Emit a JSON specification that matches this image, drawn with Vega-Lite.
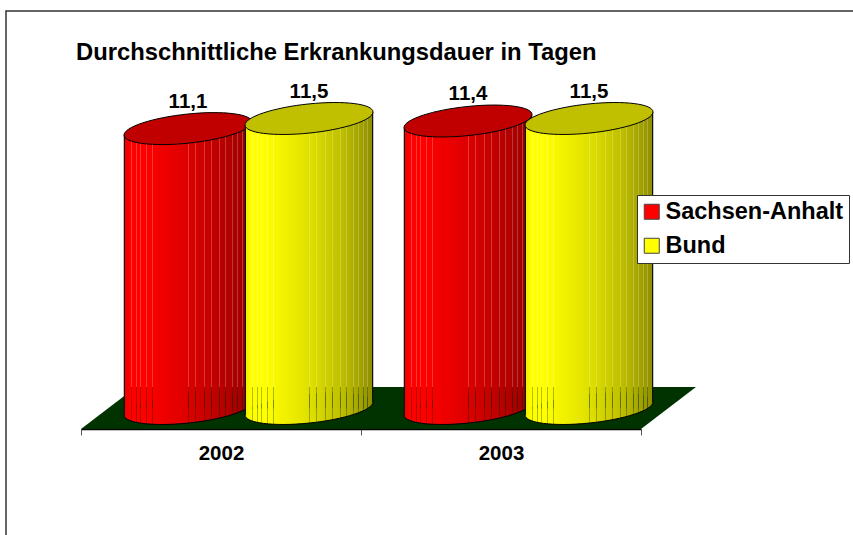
{
"$schema":"https://vega.github.io/schema/vega-lite/v6.json",
"width":848,"height":525,"autosize":{"type":"none"},
"padding":{"left":6,"top":11,"right":0,"bottom":0},
"background":"white",
"view":{"stroke":"#333333","strokeWidth":1.5,"fill":null},
"title":{"text":"Durchschnittliche Erkrankungsdauer in Tagen","anchor":"start","frame":"group","fontSize":23.8,"font":"Liberation Sans","fontWeight":"bold","color":"#000000","dx":70,"offset":-73,"baseline":"alphabetic"},
"data":{"values":[
{"year":"2002","series":"Sachsen-Anhalt","value":11.1,"label":"11,1"},
{"year":"2002","series":"Bund","value":11.5,"label":"11,5"},
{"year":"2003","series":"Sachsen-Anhalt","value":11.4,"label":"11,4"},
{"year":"2003","series":"Bund","value":11.5,"label":"11,5"}
]},
"encoding":{
"x":{"field":"year","type":"nominal","scale":{"type":"band","domain":["2002","2003"],"range":[75,635],"paddingInner":0,"paddingOuter":0},
"axis":{"title":null,"orient":"bottom","offset":-107,"tickBand":"extent","labelAngle":0,"labelFont":"Liberation Sans","labelFontSize":20.5,"labelFontWeight":"bold","labelColor":"#000000","labelPadding":8,"tickSize":6,"tickColor":"#555555","domainColor":"#000000","domainWidth":1.5,"grid":false}},
"xOffset":{"field":"series","type":"nominal","scale":{"type":"band","domain":["Sachsen-Anhalt","Bund"],"range":[46.5,288.5],"paddingInner":0,"paddingOuter":0}},
"y":{"field":"value","type":"quantitative","scale":{"domain":[0,11.5],"range":[397.5,107.5]},"axis":null}
},
"layer":[
{"transform":[{"filter":"datum.year=='2003' && datum.series=='Bund'"}],
 "mark":{"type":"point","filled":true,"opacity":1,"size":40000,"fill":"#003300","stroke":null,"shape":"M-2.8,0.205L2.8,0.205L3.35,-0.215L-2.25,-0.215Z"},
 "encoding":{"x":{"field":"year","type":"nominal","bandPosition":0},"xOffset":null,"y":{"datum":0}}},

{"transform":[{"filter":"datum.series=='Sachsen-Anhalt'"}],"layer":[
 {"mark":{"type":"point","filled":true,"opacity":1,"size":16384,"style":"redFull","stroke":"#000000","strokeWidth":1,"shape":"M1,-0.1016C1,0.0243 0.5523,0.1719 0,0.228C-0.5523,0.2841 -1,0.2275 -1,0.1016C-1,-0.0243 -0.5523,-0.1719 0,-0.228C0.5523,-0.2841 1,-0.2275 1,-0.1016Z"},"encoding":{"y":{"datum":0}}},
 {"mark":{"type":"bar","width":64.5,"xOffset":-65,"yOffset":6.5,"y2Offset":6.5,"style":"redLeft"},"encoding":{"xOffset":null,"y2":{"datum":0}}},
 {"mark":{"type":"bar","width":64.5,"xOffset":-1,"yOffset":-6.5,"y2Offset":-6.5,"style":"redRight"},"encoding":{"xOffset":null,"y2":{"datum":0}}},
 {"mark":{"type":"bar","width":128,"style":"stripeLight"},"encoding":{"y2":{"datum":0.85}}},
 {"mark":{"type":"bar","width":128,"style":"stripeDark"},"encoding":{"y":{"datum":0.85},"y2":{"datum":0}}},
 {"mark":{"type":"point","filled":true,"opacity":1,"size":16384,"style":"stripeDark","stroke":null,"shape":"M1,-0.1016C1,0.0243 0.5523,0.1719 0,0.228C-0.5523,0.2841 -1,0.2275 -1,0.1016C-1,-0.0243 -0.5523,-0.1719 0,-0.228C0.5523,-0.2841 1,-0.2275 1,-0.1016Z"},"encoding":{"y":{"datum":0}}},
 {"mark":{"type":"point","filled":true,"opacity":1,"size":16384,"fill":"#c00000","stroke":"#000000","strokeWidth":1,"shape":"M1,-0.1016C1,0.0243 0.5523,0.1719 0,0.228C-0.5523,0.2841 -1,0.2275 -1,0.1016C-1,-0.0243 -0.5523,-0.1719 0,-0.228C0.5523,-0.2841 1,-0.2275 1,-0.1016Z"}}
]},
{"transform":[{"filter":"datum.series=='Bund'"}],"layer":[
 {"mark":{"type":"point","filled":true,"opacity":1,"size":16384,"style":"yelFull","stroke":"#000000","strokeWidth":1,"shape":"M1,-0.1016C1,0.0243 0.5523,0.1719 0,0.228C-0.5523,0.2841 -1,0.2275 -1,0.1016C-1,-0.0243 -0.5523,-0.1719 0,-0.228C0.5523,-0.2841 1,-0.2275 1,-0.1016Z"},"encoding":{"y":{"datum":0}}},
 {"mark":{"type":"bar","width":64.5,"xOffset":56,"yOffset":6.5,"y2Offset":6.5,"style":"yelLeft"},"encoding":{"xOffset":null,"y2":{"datum":0}}},
 {"mark":{"type":"bar","width":64.5,"xOffset":120,"yOffset":-6.5,"y2Offset":-6.5,"style":"yelRight"},"encoding":{"xOffset":null,"y2":{"datum":0}}},
 {"mark":{"type":"bar","width":128,"style":"stripeLight"},"encoding":{"y2":{"datum":0.85}}},
 {"mark":{"type":"bar","width":128,"style":"stripeDark"},"encoding":{"y":{"datum":0.85},"y2":{"datum":0}}},
 {"mark":{"type":"point","filled":true,"opacity":1,"size":16384,"style":"stripeDark","stroke":null,"shape":"M1,-0.1016C1,0.0243 0.5523,0.1719 0,0.228C-0.5523,0.2841 -1,0.2275 -1,0.1016C-1,-0.0243 -0.5523,-0.1719 0,-0.228C0.5523,-0.2841 1,-0.2275 1,-0.1016Z"},"encoding":{"y":{"datum":0}}},
 {"mark":{"type":"point","filled":true,"opacity":1,"size":16384,"fill":"#c0c000","stroke":"#000000","strokeWidth":1,"shape":"M1,-0.1016C1,0.0243 0.5523,0.1719 0,0.228C-0.5523,0.2841 -1,0.2275 -1,0.1016C-1,-0.0243 -0.5523,-0.1719 0,-0.228C0.5523,-0.2841 1,-0.2275 1,-0.1016Z"}}
]},
{"mark":{"type":"text","font":"Liberation Sans","fontSize":20.5,"fontWeight":"bold","color":"#000000","baseline":"alphabetic","dy":-21},"encoding":{"text":{"field":"label","type":"nominal"}}},
{"mark":{"type":"point","filled":true,"opacity":0,"size":10},
 "encoding":{"fill":{"field":"series","type":"nominal","scale":{"domain":["Sachsen-Anhalt","Bund"],"range":["#ff0000","#ffff00"]},
 "legend":{"title":null,"orient":"none","legendX":631,"legendY":184,"padding":5,"fillColor":"#ffffff","strokeColor":"#333333","symbolType":"square","symbolSize":225,"symbolOpacity":1,"symbolStrokeColor":"#444444","symbolStrokeWidth":1,"labelFont":"Liberation Sans","labelFontSize":23.5,"labelFontWeight":"bold","labelColor":"#000000","labelLimit":300,"rowPadding":9,"symbolOffset":-2,"labelOffset":2}}}}
],
"config":{"font":"Liberation Sans","style":{
"redFull":{"color":{"x1":0,"x2":1,"y1":0,"y2":0,"gradient":"linear","stops":[{"offset":0,"color":"#ee0000"},{"offset":0.05,"color":"#ff0000"},{"offset":0.15,"color":"#ff0000"},{"offset":0.5,"color":"#dc0000"},{"offset":0.75,"color":"#bb0000"},{"offset":1,"color":"#990000"}]}},
"redLeft":{"color":{"x1":0,"x2":1,"y1":0,"y2":0,"gradient":"linear","stops":[{"offset":0,"color":"#111111"},{"offset":0.015,"color":"#111111"},{"offset":0.016,"color":"#ee0000"},{"offset":0.1,"color":"#ff0000"},{"offset":0.3,"color":"#ff0000"},{"offset":1,"color":"#dc0000"}]}},
"redRight":{"color":{"x1":0,"x2":1,"y1":0,"y2":0,"gradient":"linear","stops":[{"offset":0,"color":"#dc0000"},{"offset":0.5,"color":"#bb0000"},{"offset":0.985,"color":"#990000"},{"offset":0.986,"color":"#111111"},{"offset":1,"color":"#111111"}]}},
"yelFull":{"color":{"x1":0,"x2":1,"y1":0,"y2":0,"gradient":"linear","stops":[{"offset":0,"color":"#eeee00"},{"offset":0.05,"color":"#ffff00"},{"offset":0.15,"color":"#ffff00"},{"offset":0.5,"color":"#e0e000"},{"offset":0.75,"color":"#c0c000"},{"offset":1,"color":"#8f8f00"}]}},
"yelLeft":{"color":{"x1":0,"x2":1,"y1":0,"y2":0,"gradient":"linear","stops":[{"offset":0,"color":"#111111"},{"offset":0.015,"color":"#111111"},{"offset":0.016,"color":"#eeee00"},{"offset":0.1,"color":"#ffff00"},{"offset":0.3,"color":"#ffff00"},{"offset":1,"color":"#e0e000"}]}},
"yelRight":{"color":{"x1":0,"x2":1,"y1":0,"y2":0,"gradient":"linear","stops":[{"offset":0,"color":"#e0e000"},{"offset":0.5,"color":"#c0c000"},{"offset":0.985,"color":"#8f8f00"},{"offset":0.986,"color":"#111111"},{"offset":1,"color":"#111111"}]}},
"stripeLight":{"color":{"x1":0,"x2":1,"y1":0,"y2":0,"gradient":"linear","stops":[
{"offset":0.052,"color":"rgba(255,255,255,0)"},{"offset":0.052,"color":"rgba(255,255,255,0.22)"},{"offset":0.06,"color":"rgba(255,255,255,0.22)"},{"offset":0.06,"color":"rgba(255,255,255,0)"},
{"offset":0.091,"color":"rgba(255,255,255,0)"},{"offset":0.091,"color":"rgba(255,255,255,0.22)"},{"offset":0.099,"color":"rgba(255,255,255,0.22)"},{"offset":0.099,"color":"rgba(255,255,255,0)"},
{"offset":0.125,"color":"rgba(255,255,255,0)"},{"offset":0.125,"color":"rgba(255,255,255,0.22)"},{"offset":0.133,"color":"rgba(255,255,255,0.22)"},{"offset":0.133,"color":"rgba(255,255,255,0)"},
{"offset":0.174,"color":"rgba(255,255,255,0)"},{"offset":0.174,"color":"rgba(255,255,255,0.22)"},{"offset":0.182,"color":"rgba(255,255,255,0.22)"},{"offset":0.182,"color":"rgba(255,255,255,0)"},
{"offset":0.221,"color":"rgba(255,255,255,0)"},{"offset":0.221,"color":"rgba(255,255,255,0.22)"},{"offset":0.229,"color":"rgba(255,255,255,0.22)"},{"offset":0.229,"color":"rgba(255,255,255,0)"},
{"offset":0.503,"color":"rgba(255,255,255,0)"},{"offset":0.503,"color":"rgba(255,255,255,0.22)"},{"offset":0.511,"color":"rgba(255,255,255,0.22)"},{"offset":0.511,"color":"rgba(255,255,255,0)"},
{"offset":0.555,"color":"rgba(255,255,255,0)"},{"offset":0.555,"color":"rgba(255,255,255,0.22)"},{"offset":0.563,"color":"rgba(255,255,255,0.22)"},{"offset":0.563,"color":"rgba(255,255,255,0)"},
{"offset":0.625,"color":"rgba(255,255,255,0)"},{"offset":0.625,"color":"rgba(255,255,255,0.22)"},{"offset":0.633,"color":"rgba(255,255,255,0.22)"},{"offset":0.633,"color":"rgba(255,255,255,0)"},
{"offset":0.682,"color":"rgba(255,255,255,0)"},{"offset":0.682,"color":"rgba(255,255,255,0.22)"},{"offset":0.69,"color":"rgba(255,255,255,0.22)"},{"offset":0.69,"color":"rgba(255,255,255,0)"},
{"offset":0.742,"color":"rgba(255,255,255,0)"},{"offset":0.742,"color":"rgba(255,255,255,0.22)"},{"offset":0.75,"color":"rgba(255,255,255,0.22)"},{"offset":0.75,"color":"rgba(255,255,255,0)"},
{"offset":0.789,"color":"rgba(255,255,255,0)"},{"offset":0.789,"color":"rgba(255,255,255,0.22)"},{"offset":0.797,"color":"rgba(255,255,255,0.22)"},{"offset":0.797,"color":"rgba(255,255,255,0)"},
{"offset":0.841,"color":"rgba(255,255,255,0)"},{"offset":0.841,"color":"rgba(255,255,255,0.22)"},{"offset":0.849,"color":"rgba(255,255,255,0.22)"},{"offset":0.849,"color":"rgba(255,255,255,0)"},
{"offset":0.886,"color":"rgba(255,255,255,0)"},{"offset":0.886,"color":"rgba(255,255,255,0.22)"},{"offset":0.894,"color":"rgba(255,255,255,0.22)"},{"offset":0.894,"color":"rgba(255,255,255,0)"},
{"offset":0.919,"color":"rgba(255,255,255,0)"},{"offset":0.919,"color":"rgba(255,255,255,0.22)"},{"offset":0.927,"color":"rgba(255,255,255,0.22)"},{"offset":0.927,"color":"rgba(255,255,255,0)"},
{"offset":0.95,"color":"rgba(255,255,255,0)"},{"offset":0.95,"color":"rgba(255,255,255,0.22)"},{"offset":0.958,"color":"rgba(255,255,255,0.22)"},{"offset":0.958,"color":"rgba(255,255,255,0)"}
]}},
"stripeDark":{"color":{"x1":0,"x2":1,"y1":0,"y2":0,"gradient":"linear","stops":[
{"offset":0.052,"color":"rgba(0,40,0,0)"},{"offset":0.052,"color":"rgba(0,40,0,0.3)"},{"offset":0.06,"color":"rgba(0,40,0,0.3)"},{"offset":0.06,"color":"rgba(0,40,0,0)"},
{"offset":0.091,"color":"rgba(0,40,0,0)"},{"offset":0.091,"color":"rgba(0,40,0,0.3)"},{"offset":0.099,"color":"rgba(0,40,0,0.3)"},{"offset":0.099,"color":"rgba(0,40,0,0)"},
{"offset":0.125,"color":"rgba(0,40,0,0)"},{"offset":0.125,"color":"rgba(0,40,0,0.3)"},{"offset":0.133,"color":"rgba(0,40,0,0.3)"},{"offset":0.133,"color":"rgba(0,40,0,0)"},
{"offset":0.174,"color":"rgba(0,40,0,0)"},{"offset":0.174,"color":"rgba(0,40,0,0.3)"},{"offset":0.182,"color":"rgba(0,40,0,0.3)"},{"offset":0.182,"color":"rgba(0,40,0,0)"},
{"offset":0.221,"color":"rgba(0,40,0,0)"},{"offset":0.221,"color":"rgba(0,40,0,0.3)"},{"offset":0.229,"color":"rgba(0,40,0,0.3)"},{"offset":0.229,"color":"rgba(0,40,0,0)"},
{"offset":0.503,"color":"rgba(0,40,0,0)"},{"offset":0.503,"color":"rgba(0,40,0,0.3)"},{"offset":0.511,"color":"rgba(0,40,0,0.3)"},{"offset":0.511,"color":"rgba(0,40,0,0)"},
{"offset":0.555,"color":"rgba(0,40,0,0)"},{"offset":0.555,"color":"rgba(0,40,0,0.3)"},{"offset":0.563,"color":"rgba(0,40,0,0.3)"},{"offset":0.563,"color":"rgba(0,40,0,0)"},
{"offset":0.625,"color":"rgba(0,40,0,0)"},{"offset":0.625,"color":"rgba(0,40,0,0.3)"},{"offset":0.633,"color":"rgba(0,40,0,0.3)"},{"offset":0.633,"color":"rgba(0,40,0,0)"},
{"offset":0.682,"color":"rgba(0,40,0,0)"},{"offset":0.682,"color":"rgba(0,40,0,0.3)"},{"offset":0.69,"color":"rgba(0,40,0,0.3)"},{"offset":0.69,"color":"rgba(0,40,0,0)"},
{"offset":0.742,"color":"rgba(0,40,0,0)"},{"offset":0.742,"color":"rgba(0,40,0,0.3)"},{"offset":0.75,"color":"rgba(0,40,0,0.3)"},{"offset":0.75,"color":"rgba(0,40,0,0)"},
{"offset":0.789,"color":"rgba(0,40,0,0)"},{"offset":0.789,"color":"rgba(0,40,0,0.3)"},{"offset":0.797,"color":"rgba(0,40,0,0.3)"},{"offset":0.797,"color":"rgba(0,40,0,0)"},
{"offset":0.841,"color":"rgba(0,40,0,0)"},{"offset":0.841,"color":"rgba(0,40,0,0.3)"},{"offset":0.849,"color":"rgba(0,40,0,0.3)"},{"offset":0.849,"color":"rgba(0,40,0,0)"},
{"offset":0.886,"color":"rgba(0,40,0,0)"},{"offset":0.886,"color":"rgba(0,40,0,0.3)"},{"offset":0.894,"color":"rgba(0,40,0,0.3)"},{"offset":0.894,"color":"rgba(0,40,0,0)"},
{"offset":0.919,"color":"rgba(0,40,0,0)"},{"offset":0.919,"color":"rgba(0,40,0,0.3)"},{"offset":0.927,"color":"rgba(0,40,0,0.3)"},{"offset":0.927,"color":"rgba(0,40,0,0)"},
{"offset":0.95,"color":"rgba(0,40,0,0)"},{"offset":0.95,"color":"rgba(0,40,0,0.3)"},{"offset":0.958,"color":"rgba(0,40,0,0.3)"},{"offset":0.958,"color":"rgba(0,40,0,0)"}
]}}
}}
}
